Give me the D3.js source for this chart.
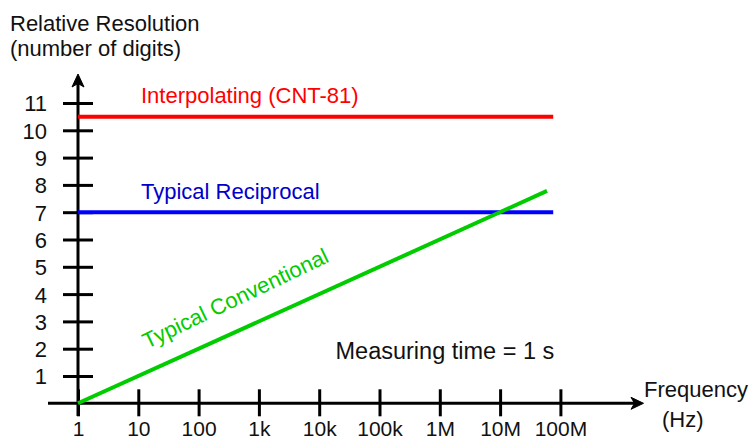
<!DOCTYPE html>
<html>
<head>
<meta charset="utf-8">
<script src="https://cdn.jsdelivr.net/npm/d3@7"></script>
<style>
  body { margin: 0; background: #fff; }
  text { font-family: "Liberation Sans", Arial, sans-serif; }
</style>
</head>
<body>
<script>
// tick values and labels
var freqTicks = [1, 10, 100, 1e3, 1e4, 1e5, 1e6, 1e7, 1e8];
var freqLabels = ["1", "10", "100", "1k", "10k", "100k", "1M", "10M", "100M"];
var digitTicks = [1, 2, 3, 4, 5, 6, 7, 8, 9, 10, 11];

// series: [frequency, digits]
var seriesNames = ["Interpolating (CNT-81)", "Typical Reciprocal", "Typical Conventional"];
var interpolating = [[1, 10.5], [7.6e7, 10.5]];
var reciprocal = [[1, 7], [7.6e7, 7]];
var conventional = [[1, 0], [6e7, 7.78]];

function init() {
    var w = 749, h = 441;
    var fs = 22;

    var x = d3.scaleLog().domain([1, 1e8]).range([78, 560.4]);
    var y = d3.scaleLinear().domain([0, 11]).range([403.3, 103]);

    var svg = d3.select("body").append("svg")
        .attr("width", w)
        .attr("height", h);

    // y axis ticks (crossing the axis line)
    var yAxis = d3.axisLeft(y).tickValues(digitTicks).tickSize(15).tickPadding(16);
    var gy = svg.append("g").attr("transform", "translate(" + x(1) + ",0)").call(yAxis);
    gy.select(".domain").remove();
    gy.selectAll(".tick line").attr("x1", 15).attr("stroke", "#000").attr("stroke-width", 3);
    gy.selectAll(".tick text").style("font-size", fs + "px").attr("fill", "#111").attr("dy", "0.36em");

    // x axis ticks
    var xAxis = d3.axisBottom(x).tickValues(freqTicks)
        .tickFormat(function (d, i) { return freqLabels[i]; })
        .tickSize(13);
    var gx = svg.append("g").attr("transform", "translate(0," + y(0) + ")").call(xAxis);
    gx.select(".domain").remove();
    gx.selectAll(".tick line").attr("y1", -14).attr("stroke", "#000").attr("stroke-width", 3);
    gx.selectAll(".tick text").style("font-size", "21px").attr("fill", "#111")
        .attr("y", 32.7).attr("dy", "0");

    // axis lines with arrows
    var x0 = x(1), y0 = y(0);
    svg.append("line").attr("x1", 48).attr("x2", 636).attr("y1", y0).attr("y2", y0)
        .attr("stroke", "#000").attr("stroke-width", 3);
    svg.append("line").attr("x1", x0).attr("x2", x0).attr("y1", 416).attr("y2", 82)
        .attr("stroke", "#000").attr("stroke-width", 3);
    svg.append("path")
        .attr("d", "M643.5," + y0 + " L631," + (y0 - 6) + " L634.5," + y0 + " L631," + (y0 + 6) + "Z")
        .attr("fill", "#000").attr("stroke", "#000").attr("stroke-width", 1);
    svg.append("path")
        .attr("d", "M" + x0 + ",74 L" + (x0 - 6) + ",87 L" + x0 + ",83.5 L" + (x0 + 6) + ",87Z")
        .attr("fill", "#000").attr("stroke", "#000").attr("stroke-width", 1);

    // series lines
    var line = d3.line()
        .x(function (d) { return x(d[0]); })
        .y(function (d) { return y(d[1]); });

    var series = [
        { data: interpolating, color: "#ff0000" },
        { data: reciprocal, color: "#0000ff" },
        { data: conventional, color: "#00cc00" }
    ];
    svg.selectAll("path.series")
        .data(series)
        .enter()
        .append("path")
        .attr("class", "series")
        .attr("d", function (d) { return line(d.data); })
        .attr("fill", "none")
        .attr("stroke", function (d) { return d.color; })
        .attr("stroke-width", 4);

    // series labels
    svg.append("text").attr("x", 141).attr("y", 103).text(seriesNames[0])
        .attr("fill", "#ff0000").style("font-size", fs + "px");
    svg.append("text").attr("x", 141).attr("y", 198.5).text(seriesNames[1])
        .attr("fill", "#0000cc").style("font-size", fs + "px");
    var ang = Math.atan2(y(conventional[0][1]) - y(conventional[1][1]),
        x(conventional[1][0]) - x(conventional[0][0])) * 180 / Math.PI;
    svg.append("text").attr("transform", "translate(147,349) rotate(" + (-ang - 1.2) + ")")
        .text(seriesNames[2])
        .attr("fill", "#00cc00").style("font-size", fs + "px");

    // titles
    svg.append("text").attr("x", 10).attr("y", 30.5).text("Relative Resolution")
        .attr("fill", "#111").style("font-size", fs + "px");
    svg.append("text").attr("x", 10).attr("y", 56).text("(number of digits)")
        .attr("fill", "#111").style("font-size", fs + "px");
    svg.append("text").attr("x", 644).attr("y", 396.5).text("Frequency")
        .attr("fill", "#111").style("font-size", fs + "px");
    svg.append("text").attr("x", 662).attr("y", 426.5).text("(Hz)")
        .attr("fill", "#111").style("font-size", fs + "px");
    svg.append("text").attr("x", 335.5).attr("y", 358.5).text("Measuring time = 1 s")
        .attr("fill", "#111").style("font-size", "23.5px");
}
window.onload = init;
</script>
</body>
</html>
